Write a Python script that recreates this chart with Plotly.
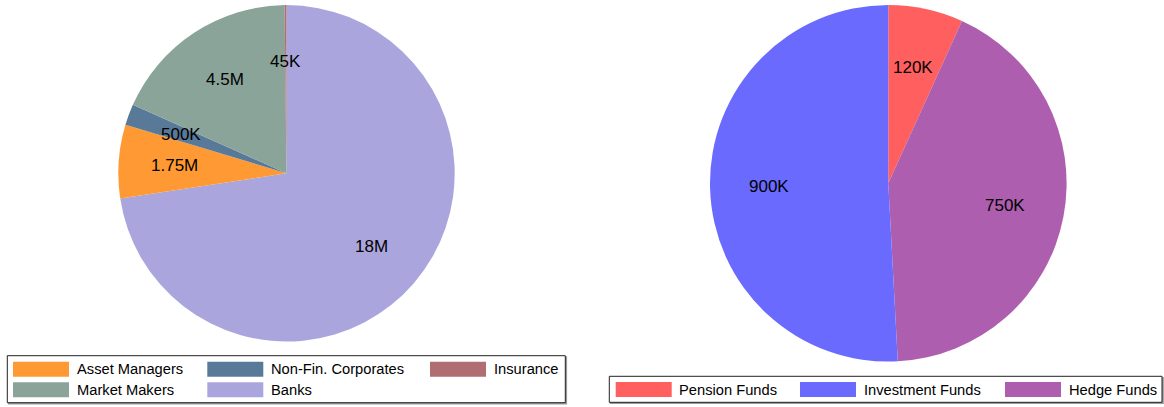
import math
import plotly.graph_objects as go

W, H = 1164, 407
FONT = "Arial, Liberation Sans, sans-serif"

# ── Data ────────────────────────────────────────────────────────────────────
left_labels = ["Asset Managers", "Non-Fin. Corporates", "Insurance", "Market Makers", "Banks"]
left_values = [1_750_000, 500_000, 45_000, 4_500_000, 18_000_000]
left_colors = ["#FF9933", "#587A98", "#B06E73", "#8AA49A", "#AAA6DD"]
# slices go clockwise from 12 o'clock in this order
left_slice_order = ["Banks", "Asset Managers", "Non-Fin. Corporates", "Market Makers", "Insurance"]

right_labels = ["Pension Funds", "Investment Funds", "Hedge Funds"]
right_values = [120_000, 900_000, 750_000]
right_colors = ["#FF5F5F", "#6A6AFF", "#AD5EAE"]
right_slice_order = ["Pension Funds", "Hedge Funds", "Investment Funds"]

# ── Layout constants (pixels) ───────────────────────────────────────────────
LEFT_PIE = dict(cx=286.5, cy=173.3, r=168.2)
RIGHT_PIE = dict(cx=888.3, cy=183.3, r=178.3)
LABEL_RADIUS = 0.667

LEFT_LEGEND = dict(box=(7.3, 355.7, 565.3, 402.7), cols=[13, 207.3, 430], rows=[369.2, 389.8])
RIGHT_LEGEND = dict(box=(609.3, 376.3, 1162, 402.3), cols=[615.7, 800, 1005], rows=[389.5])
SWATCH_W, SWATCH_H, TEXT_GAP = 56, 15, 5.5


def px(x):
    return x / W


def py(y):
    return 1 - y / H


def _fmt(v):
    if v >= 1e6:
        return f"{v / 1e6:g}M"
    return f"{v / 1e3:g}K"


def _ordered(labels, values, colors, order):
    idx = [labels.index(lab) for lab in order]
    return [labels[i] for i in idx], [values[i] for i in idx], [colors[i] for i in idx]


def add_pie(fig, labels, values, colors, order, geo):
    labs, vals, cols = _ordered(labels, values, colors, order)
    cx, cy, r = geo["cx"], geo["cy"], geo["r"]
    fig.add_trace(go.Pie(
        labels=labs, values=vals, marker=dict(colors=cols, line=dict(width=0)),
        sort=False, direction="clockwise", rotation=0,
        textinfo="none", showlegend=False,
        domain=dict(x=[px(cx - r), px(cx + r)], y=[py(cy + r), py(cy - r)]),
    ))
    # value labels, placed at mid-angle of each slice
    total = sum(vals)
    cum = 0
    for v in vals:
        a = 2 * math.pi * (cum + v / 2) / total
        cum += v
        x = cx + LABEL_RADIUS * r * math.sin(a)
        y = cy - LABEL_RADIUS * r * math.cos(a)
        fig.add_annotation(
            x=px(x), y=py(y), xref="paper", yref="paper", text=_fmt(v),
            showarrow=False, xanchor="center", yanchor="middle",
            font=dict(family=FONT, size=17, color="#000000"),
        )


def add_legend(fig, labels, colors, spec):
    x0, y0, x1, y1 = spec["box"]
    # shadow + frame
    fig.add_shape(type="rect", xref="paper", yref="paper",
                  x0=px(x0 + 1.2), y0=py(y1 + 1.2), x1=px(x1 + 1.2), y1=py(y0 + 1.2),
                  line=dict(color="#9a9a9a", width=1.2), fillcolor="#9a9a9a", layer="above")
    fig.add_shape(type="rect", xref="paper", yref="paper",
                  x0=px(x0), y0=py(y1), x1=px(x1), y1=py(y0),
                  line=dict(color="#222222", width=1), fillcolor="#ffffff", layer="above")
    ncol = len(spec["cols"])
    for i, (lab, col) in enumerate(zip(labels, colors)):
        sx = spec["cols"][i % ncol]
        sy = spec["rows"][i // ncol]
        fig.add_shape(type="rect", xref="paper", yref="paper",
                      x0=px(sx), x1=px(sx + SWATCH_W),
                      y0=py(sy + SWATCH_H / 2), y1=py(sy - SWATCH_H / 2),
                      line=dict(width=0), fillcolor=col, layer="above")
        fig.add_annotation(
            x=px(sx + SWATCH_W + TEXT_GAP), y=py(sy), xref="paper", yref="paper",
            text=lab, showarrow=False, xanchor="left", yanchor="middle",
            font=dict(family=FONT, size=14.7, color="#000000"),
        )


fig = go.Figure()
add_pie(fig, left_labels, left_values, left_colors, left_slice_order, LEFT_PIE)
add_pie(fig, right_labels, right_values, right_colors, right_slice_order, RIGHT_PIE)
add_legend(fig, left_labels, left_colors, LEFT_LEGEND)
add_legend(fig, right_labels, right_colors, RIGHT_LEGEND)

fig.update_layout(
    width=W, height=H, autosize=False,
    margin=dict(l=0, r=0, t=0, b=0),
    paper_bgcolor="white", plot_bgcolor="white",
    font=dict(family=FONT),
    showlegend=False,
)
fig.write_html("out.html", config={"displayModeBar": False},
               post_script="document.body.style.margin = '0';")
